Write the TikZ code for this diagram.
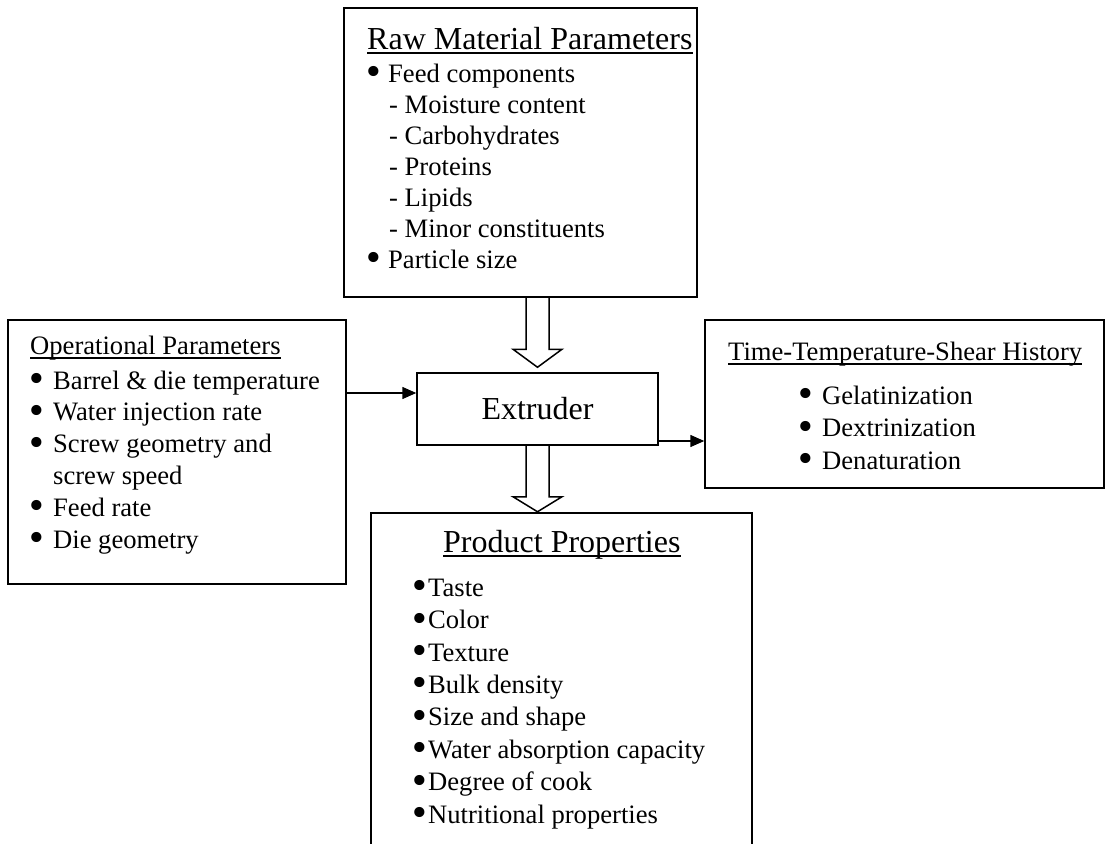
\documentclass[tikz,border=0pt]{standalone}
\usepackage{fontspec}
\setmainfont{Liberation Serif}
\newfontfamily\bulletfont{DejaVu Sans}
\usetikzlibrary{calc,arrows.meta}
\newcommand{\itm}[2][20pt]{\makebox[#1][l]{\kern-5pt\raisebox{-2.5pt}{\bulletfont\fontsize{35}{35}\selectfont •}}#2}
\newcommand{\sub}[1]{\hspace*{21pt}- #1}

\begin{document}
\begin{tikzpicture}[x=1pt,y=-1pt,
    box/.style={draw,line width=1.5pt,rectangle,inner sep=0pt},
    bigtext/.style={font=\fontsize{32}{36}\selectfont,inner sep=0pt,anchor=base west},
    body/.style={font=\fontsize{26.6}{31}\selectfont,inner sep=0pt,anchor=base west,align=left},
    uline/.style={line width=1.5pt},
    hollow/.style={draw,line width=1.5pt,line join=miter},
    feed/.style={line width=1.5pt,-{Triangle[length=14pt,width=12pt]}}]
  \useasboundingbox (0,0) rectangle (1110,843);
  % frames
  \node[box,minimum width=353pt,minimum height=289pt] (raw) at (520.5,152.5) {};
  \node[box,minimum width=338pt,minimum height=264pt] (oper) at (177,452) {};
  \node[box,minimum width=399pt,minimum height=168pt] (tts) at (904.5,404) {};
  \node[box,minimum width=241pt,minimum height=72pt,font=\fontsize{32}{36}\selectfont] (ext) at (537.5,409) {Extruder};
  \node[box,minimum width=381pt,minimum height=340pt] (prod) at (561.5,683) {};
  % headings
  \node[bigtext] (rawtitle) at (367,49) {Raw Material Parameters};
  \node[body] (optitle) at (30,354) {Operational Parameters};
  \node[body] (ttstitle) at (728,360) {Time-Temperature-Shear History};
  \node[bigtext] (prodtitle) at (443,552) {Product Properties};
  \foreach \t in {rawtitle,optitle,ttstitle,prodtitle}
    \draw[uline] ([yshift=-4pt]\t.base west) -- ([yshift=-4pt]\t.base east);
  % lists (base = baseline of the last line)
  \node[body] (rawlist) at (368,268) {\itm{Feed components}\\
    \sub{Moisture content}\\ \sub{Carbohydrates}\\ \sub{Proteins}\\
    \sub{Lipids}\\ \sub{Minor constituents}\\ \itm{Particle size}};
  \node[body,font=\fontsize{26.6}{31.8}\selectfont] (oplist) at (31,548) {\itm[22pt]{Barrel \& die temperature}\\
    \itm[22pt]{Water injection rate}\\ \itm[22pt]{Screw geometry and}\\
    \hspace*{22pt}screw speed\\ \itm[22pt]{Feed rate}\\ \itm[22pt]{Die geometry}};
  \node[body,font=\fontsize{26.6}{32.5}\selectfont] (ttslist) at (800,469) {\itm[22pt]{Gelatinization}\\
    \itm[22pt]{Dextrinization}\\ \itm[22pt]{Denaturation}};
  \node[body,font=\fontsize{26.6}{32.4}\selectfont] (prodlist) at (414,823) {\itm[14pt]{Taste}\\
    \itm[14pt]{Color}\\ \itm[14pt]{Texture}\\ \itm[14pt]{Bulk density}\\
    \itm[14pt]{Size and shape}\\ \itm[14pt]{Water absorption capacity}\\
    \itm[14pt]{Degree of cook}\\ \itm[14pt]{Nutritional properties}};
  % connectors
  \coordinate (opin) at ($(ext.west)+(0,-16)$);
  \coordinate (extout) at ($(ext.east)+(0,32)$);
  \draw[feed] (oper.east |- opin) -- (opin);
  \draw[feed] (extout) -- (tts.west |- extout);
  \coordinate (inL) at ($(ext.north)+(-11.5,0)$);
  \coordinate (inR) at ($(ext.north)+(11.5,0)$);
  \draw[hollow] (inL |- raw.south) -- ($(inL)+(0,-23)$)
    -- ($(ext.north)+(-24.5,-23)$) -- ($(ext.north)+(0,-5)$) -- ($(ext.north)+(24.5,-23)$)
    -- ($(inR)+(0,-23)$) -- (inR |- raw.south);
  \draw[hollow] ($(ext.south)+(-11.5,0)$) -- ($(ext.south)+(-11.5,51)$)
    -- ($(ext.south)+(-24.5,51)$) -- ($(ext.south)+(0,66)$) -- ($(ext.south)+(24.5,51)$)
    -- ($(ext.south)+(11.5,51)$) -- ($(ext.south)+(11.5,0)$);
\end{tikzpicture}
\end{document}
